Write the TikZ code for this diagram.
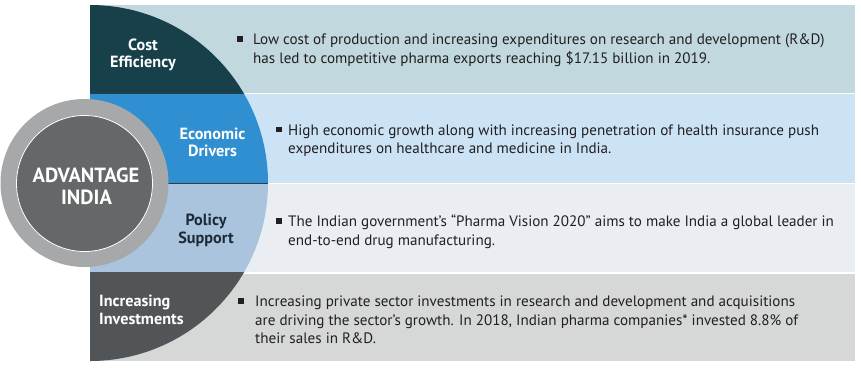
\documentclass[tikz,border=0pt]{standalone}
\usepackage{fontspec}
\setmainfont{PT Sans}
\definecolor{bodytext}{HTML}{231F20}
\definecolor{pone}{HTML}{C0D8DE}
\definecolor{ptwo}{HTML}{CCE3F5}
\definecolor{pthree}{HTML}{EAEEF3}
\definecolor{pfour}{HTML}{D6D8D8}
\definecolor{cone}{HTML}{17404A}
\definecolor{ctwo}{HTML}{2F8FD0}
\definecolor{cthree}{HTML}{AAC4DD}
\definecolor{cfour}{HTML}{515557}
\definecolor{ringc}{HTML}{A6A8A9}
\definecolor{innerc}{HTML}{656869}
\definecolor{policytext}{HTML}{1B2A38}
\definecolor{sepc}{HTML}{23404C}
\begin{document}
\begin{tikzpicture}[x=1pt,y=-1pt,
  body/.style={anchor=base west, inner sep=0pt, font=\fontsize{15.1}{18}\selectfont, text=bodytext},
  bul/.style={rectangle, fill=bodytext, minimum size=5.2pt, inner sep=0pt},
  lbl/.style={anchor=base, inner sep=0pt, font=\bfseries\fontsize{16.2}{19}\selectfont, text=white},
  lbll/.style={lbl, anchor=base west},
  big/.style={anchor=base, inner sep=0pt, font=\bfseries\fontsize{20.5}{24}\selectfont, text=white},
  sepline/.style={draw=sepc, line width=0.8pt},
]
\useasboundingbox (0,0) rectangle (861,368);
\fill[white] (0,0) rectangle (861,368);
% light panels
\fill[pone]   (90,4.5)   rectangle (855,92.5);
\fill[ptwo]   (90,94)    rectangle (855,182.5);
\fill[pthree] (90,184)   rectangle (855,272);
\fill[pfour]  (90,273.5) rectangle (855,361);
% coloured quarter-circle segments
\begin{scope}\clip (90,0) rectangle (300,93.3);
  \fill[cone] (90,183) circle[radius=178pt];\end{scope}
\begin{scope}\clip (90,93.3) rectangle (300,183);
  \fill[ctwo] (90,183) circle[radius=178pt];\end{scope}
\begin{scope}\clip (90,183) rectangle (300,272.8);
  \fill[cthree] (90,183) circle[radius=178pt];\end{scope}
\begin{scope}\clip (90,272.8) rectangle (300,368);
  \fill[cfour] (90,183) circle[radius=178pt];\end{scope}
\coordinate (s1a) at (90,93.3);
\coordinate (s1b) at (243.8,93.3);
\coordinate (s2a) at (90,183);
\coordinate (s2b) at (268,183);
\draw[sepline] (s1a) -- (s1b);
\draw[sepline] (s2a) -- (s2b);
% central circle
\node[circle, fill=ringc, minimum size=168pt, inner sep=0pt] (ring) at (84.5,183) {};
\node[circle, fill=innerc, draw=white, line width=0.8pt, minimum size=136pt, inner sep=0pt] (core) at (84.5,183.5) {};
\node[big] (adv) at (86,182) {ADVANTAGE};
\node[big] (ind) at (86.5,204.5) {INDIA};
% segment labels
\node[lbl] (l1a) at (143,50.3) {Cost};
\node[lbl] (l1b) at (143,67.8) {Efficiency};
\node[lbl] (l2a) at (212.5,139.3) {Economic};
\node[lbl] (l2b) at (212.5,156.8) {Drivers};
\node[lbl, text=policytext] (l3a) at (206,225) {Policy};
\node[lbl, text=policytext] (l3b) at (206,243) {Support};
\node[lbll] (l4a) at (99,306) {Increasing};
\node[lbll] (l4b) at (99,324) {Investments};
% bullets and text
\node[bul] (b1) at (240,39) {};
\node[body] (t1a) at (253,44.5) {Low cost of production and increasing expenditures on research and development (R\&D)};
\node[body] (t1b) at (253,63) {has led to competitive pharma exports reaching \$17.15 billion in 2019.};
\node[bul] (b2) at (279,129.5) {};
\node[body] (t2a) at (288,135) {High economic growth along with increasing penetration of health insurance push};
\node[body] (t2b) at (288,153.3) {expenditures on healthcare and medicine in India.};
\node[bul] (b3) at (279,221) {};
\node[body] (t3a) at (288,226.5) {The Indian government’s “Pharma Vision 2020” aims to make India a global leader in};
\node[body] (t3b) at (288,245) {end-to-end drug manufacturing.};
\node[bul] (b4) at (241,301) {};
\node[body] (t4a) at (255,306.5) {Increasing private sector investments in research and development and acquisitions};
\node[body] (t4b) at (255,325) {are driving the sector’s growth. In 2018, Indian pharma companies* invested 8.8\% of};
\node[body] (t4c) at (255,343.3) {their sales in R\&D.};
\end{tikzpicture}
\end{document}
